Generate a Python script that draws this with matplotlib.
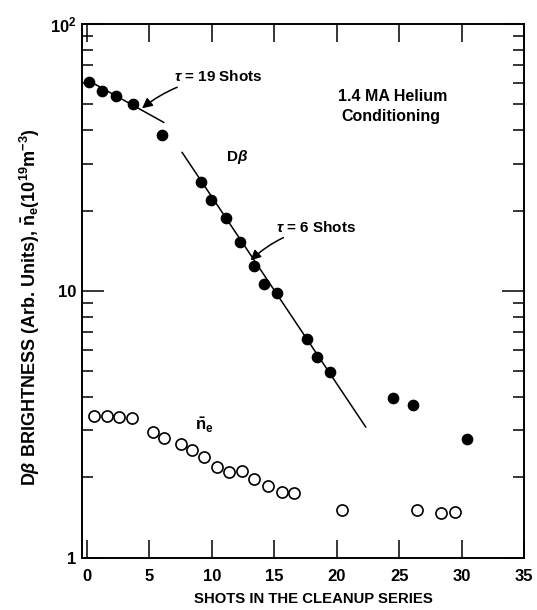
import numpy as np
import matplotlib.pyplot as plt
from matplotlib.ticker import LogLocator, NullFormatter

plt.rcParams['font.family'] = ['Liberation Sans', 'DejaVu Sans']
plt.rcParams['font.weight'] = 'bold'
plt.rcParams['axes.labelweight'] = 'bold'
plt.rcParams['mathtext.fontset'] = 'custom'
plt.rcParams['mathtext.rm'] = 'Liberation Sans:bold'
plt.rcParams['mathtext.it'] = 'Liberation Sans:italic:bold'
plt.rcParams['mathtext.bf'] = 'Liberation Sans:bold'

# D-beta brightness (filled dots)
dbeta_shot = [0.16, 1.2, 2.3, 3.66, 5.98, 9.17, 9.97, 11.1, 12.24, 13.36,
              14.2, 15.24, 17.59, 18.44, 19.43, 24.5, 26.14, 30.47]
dbeta_val = [60.8, 56.2, 53.7, 50.1, 38.4, 25.6, 21.9, 18.7, 15.2, 12.4,
             10.6, 9.79, 6.58, 5.66, 4.98, 3.97, 3.73, 2.78]

# line-averaged density (open circles)
ne_shot = [0.59, 1.6, 2.59, 3.6, 5.29, 6.2, 7.5, 8.42, 9.35, 10.45,
           11.39, 12.45, 13.36, 14.51, 15.64, 16.57, 20.45, 26.4, 28.33, 29.46]
ne_val = [3.40, 3.40, 3.36, 3.33, 2.96, 2.81, 2.66, 2.53, 2.39, 2.18,
          2.10, 2.12, 1.97, 1.86, 1.77, 1.75, 1.51, 1.51, 1.47, 1.49]

# fitted decay lines, endpoints
fit19_shot = [0.0, 6.14]
fit19_val = [61.8, 42.8]
fit6_shot = [7.62, 22.32]
fit6_val = [33.0, 3.09]

fig = plt.figure(figsize=(5.37, 6.10), dpi=100)
ax = fig.add_axes([0.1527, 0.0857, 0.8231, 0.875])

ax.plot(fit19_shot, fit19_val, color='black', lw=1.1)
ax.plot(fit6_shot, fit6_val, color='black', lw=1.1)
ax.plot(dbeta_shot, dbeta_val, 'o', color='black', ms=7.4, zorder=3)
ax.plot(ne_shot, ne_val, 'o', mfc='white', mec='black', mew=1.2, ms=8, zorder=3)

ax.set_yscale('log')
ax.set_xlim(-0.4, 35)
ax.set_ylim(1, 100)

ax.set_xticks(np.arange(0, 36, 5))
ax.set_xticklabels(['0', '5', '10', '15', '20', '25', '30', '35'])
ax.set_yticks([1, 10, 100])
ax.set_yticklabels(['1', '10', '$10^2$'])
ax.yaxis.set_minor_locator(LogLocator(base=10, subs=np.arange(2, 10)))
ax.yaxis.set_minor_formatter(NullFormatter())

ax.tick_params(axis='x', which='major', direction='in', length=13, width=1.1,
               top=True, labelsize=12, pad=8)
ax.tick_params(axis='y', which='major', direction='in', length=16, width=1.1,
               right=True, labelsize=12, pad=4)
ax.tick_params(axis='y', which='minor', direction='in', length=8, width=1.1,
               right=True)
for s in ax.spines.values():
    s.set_linewidth(1.4)

ax.set_xlabel('SHOTS IN THE CLEANUP SERIES', fontsize=10.7)
ax.xaxis.set_label_coords(0.524, -0.065)
ax.set_ylabel(r'D$\beta$ BRIGHTNESS (Arb. Units), $\bar{\mathrm{n}}_\mathrm{e}$(10$^{19}$m$^{-3}$)',
              fontsize=13)
ax.yaxis.set_label_coords(-0.09, 0.47)

arrow = dict(arrowstyle='-|>', color='black', lw=1.1, mutation_scale=15,
             shrinkA=0, shrinkB=0, connectionstyle='arc3,rad=0.15')
ax.annotate(r'$\tau$ = 19 Shots', xy=(4.41, 48.3), xytext=(7.0, 63.3),
            fontsize=11, va='center', ha='left', arrowprops=arrow)
ax.annotate(r'$\tau$ = 6 Shots', xy=(13.1, 13.0), xytext=(15.1, 17.3),
            fontsize=11, va='center', ha='left', arrowprops=arrow)

ax.text(12.0, 31.7, r'D$\beta$', fontsize=11, ha='center', va='center')
ax.text(24.5, 53.7, '1.4 MA Helium', fontsize=11.5, ha='center', va='center')
ax.text(24.3, 44.9, 'Conditioning', fontsize=11.5, ha='center', va='center')
ax.text(9.37, 3.14, r'$\bar{\mathrm{n}}_\mathrm{e}$', fontsize=12, ha='center', va='center')

fig.savefig('out.png', dpi=100)
